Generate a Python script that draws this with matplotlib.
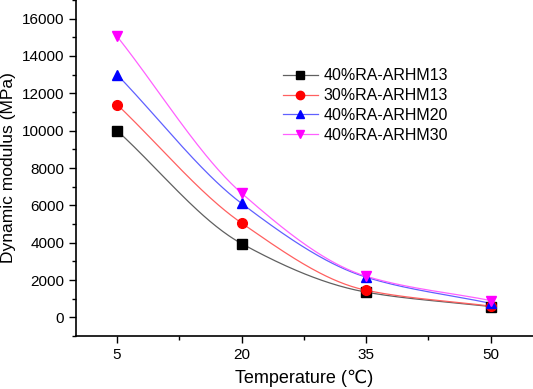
import numpy as np
import matplotlib
matplotlib.use("Agg")
from matplotlib import pyplot as plt
from matplotlib.ticker import MultipleLocator

plt.rcParams['font.family'] = ['Liberation Sans', 'DejaVu Sans']

# Data
temps = ['5', '20', '35', '50']
ra40_h13 = [10000, 3950, 1350, 580]
ra30_h13 = [11400, 5050, 1450, 600]
ra40_h20 = [13000, 6100, 2150, 750]
ra40_h30 = [15050, 6650, 2200, 900]
labels = ['40%RA-ARHM13', '30%RA-ARHM13', '40%RA-ARHM20', '40%RA-ARHM30']

series = [ra40_h13, ra30_h13, ra40_h20, ra40_h30]
colors = ['#000000', '#ff0000', '#0000ff', '#ff00ff']
line_colors = ['#606060', '#ff6060', '#6060ff', '#ff60ff']
markers = ['s', 'o', '^', 'v']


def smooth(xk, yk, n=60):
    # monotone cubic hermite (Fritsch-Carlson), just for the connecting line
    xk = np.asarray(xk, float)
    yk = np.asarray(yk, float)
    h = np.diff(xk)
    d = np.diff(yk) / h
    m = np.zeros_like(yk)
    m[0], m[-1] = d[0], d[-1]
    for i in range(1, len(yk) - 1):
        if d[i-1] * d[i] > 0:
            w1 = 2*h[i] + h[i-1]
            w2 = h[i] + 2*h[i-1]
            m[i] = (w1 + w2) / (w1/d[i-1] + w2/d[i])
    xo, yo = [], []
    for i in range(len(h)):
        t = np.linspace(0, 1, n)
        h00 = 2*t**3 - 3*t**2 + 1
        h10 = t**3 - 2*t**2 + t
        h01 = -2*t**3 + 3*t**2
        h11 = t**3 - t**2
        xo.append(xk[i] + t*h[i])
        yo.append(h00*yk[i] + h10*h[i]*m[i] + h01*yk[i+1] + h11*h[i]*m[i+1])
    return np.concatenate(xo), np.concatenate(yo)


fig = plt.figure(figsize=(5.33, 3.89), dpi=100)
ax = fig.add_axes([76/533, 1-336/389, 1-76/533, 336/389])

x = np.arange(len(temps))
for ys, c, lc, m, lab in zip(series, colors, line_colors, markers, labels):
    sx, sy = smooth(x, ys)
    ax.plot(sx, sy, color=lc, lw=0.9, zorder=2)
    ax.plot(x, ys, linestyle='none', marker=m, color=c, ms=7, zorder=3)
    ax.plot([], [], color=lc, lw=0.9, marker=m, mfc=c, mec=c, ms=6, label=lab)

ax.set_xlim(-0.33, 3.34)
ax.set_ylim(-1000, 17000)
ax.set_xticks(x)
ax.set_xticklabels(temps)
ax.xaxis.set_minor_locator(MultipleLocator(0.5))
ax.yaxis.set_minor_locator(MultipleLocator(1000))
ax.set_yticks(np.arange(0, 16001, 2000))
ax.tick_params(which='major', direction='out', length=5, width=1, labelsize=11)
ax.tick_params(which='minor', direction='out', length=3, width=1)
for s in ['top', 'right']:
    ax.spines[s].set_visible(False)
for s in ['left', 'bottom']:
    ax.spines[s].set_linewidth(1.2)

ax.set_xlabel('Temperature (℃)', fontsize=13, labelpad=6)
ax.set_ylabel('Dynamic modulus (MPa)', fontsize=12.5)
ax.yaxis.set_label_coords(-0.131, 0.5)

ax.legend(loc='upper left', bbox_to_anchor=(0.435, 0.82), frameon=False,
          fontsize=11.5, handlelength=2.2, handletextpad=0.35, labelspacing=0.3,
          borderpad=0)

fig.savefig('out.png', dpi=100)
